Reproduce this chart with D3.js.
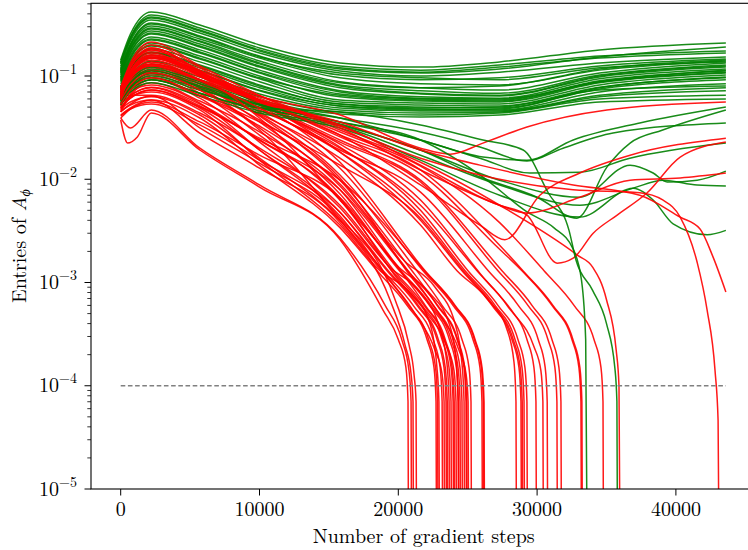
<!DOCTYPE html>
<html><head><meta charset="utf-8">
<script src="https://cdn.jsdelivr.net/npm/d3@7"></script>
<style>
body{margin:0;background:#fff}
svg{display:block}
</style>
</head><body>
<svg id="chart" width="748" height="550"></svg>
<script>
// ---------------- data ----------------
const xTicks = [0, 10000, 20000, 30000, 40000];
const yTickExps = [-5, -4, -3, -2, -1];
const thresholdValue = 1e-4;
const thresholdRange = [0, 43600];

// green runs sharing one step grid
const bundleSteps = [0, 700, 2200, 5700, 10000, 15800, 21600, 27300, 34500, 43600];
const greenBundle = [
  [0.143,0.255,0.417,0.312,0.200,0.134,0.122,0.137,0.179,0.209],
  [0.137,0.239,0.390,0.292,0.187,0.125,0.114,0.128,0.156,0.175],
  [0.134,0.234,0.373,0.279,0.179,0.120,0.109,0.122,0.149,0.167],
  [0.125,0.218,0.349,0.261,0.167,0.112,0.100,0.109,0.134,0.153],
  [0.120,0.204,0.326,0.244,0.156,0.102,0.092,0.096,0.125,0.146],
  [0.114,0.195,0.305,0.228,0.149,0.096,0.084,0.082,0.114,0.140],
  [0.109,0.187,0.292,0.218,0.140,0.088,0.077,0.073,0.107,0.134],
  [0.107,0.179,0.273,0.204,0.131,0.082,0.072,0.068,0.102,0.128],
  [0.102,0.167,0.255,0.191,0.122,0.077,0.067,0.064,0.098,0.122],
  [0.098,0.160,0.239,0.179,0.114,0.072,0.063,0.061,0.094,0.117],
  [0.094,0.149,0.223,0.167,0.107,0.067,0.060,0.0585,0.090,0.112],
  [0.092,0.143,0.209,0.156,0.100,0.063,0.0572,0.056,0.086,0.107],
  [0.088,0.134,0.195,0.146,0.094,0.0585,0.0547,0.0535,0.082,0.102],
  [0.084,0.128,0.183,0.137,0.088,0.056,0.0524,0.0512,0.078,0.098],
  [0.080,0.120,0.171,0.128,0.082,0.0535,0.0501,0.049,0.075,0.092],
  [0.077,0.114,0.160,0.120,0.077,0.0512,0.0479,0.0469,0.070,0.084],
  [0.073,0.107,0.149,0.112,0.072,0.049,0.0458,0.0458,0.065,0.077],
  [0.070,0.100,0.140,0.105,0.067,0.0469,0.0438,0.0448,0.063,0.072],
  [0.067,0.096,0.131,0.098,0.063,0.0448,0.0419,0.0438,0.060,0.065],
  [0.064,0.090,0.122,0.092,0.0585,0.0429,0.0401,0.0419,0.056,0.060],
  [0.117,0.200,0.319,0.239,0.153,0.107,0.096,0.092,0.120,0.137],
  [0.090,0.137,0.200,0.149,0.096,0.065,0.0585,0.0572,0.088,0.114],
  [0.075,0.109,0.153,0.114,0.073,0.0512,0.0469,0.0479,0.077,0.096],
  [0.105,0.171,0.261,0.195,0.125,0.080,0.068,0.065,0.100,0.125],
  [0.131,0.228,0.365,0.273,0.175,0.117,0.107,0.117,0.153,0.191],
  [0.112,0.183,0.286,0.214,0.134,0.086,0.077,0.080,0.117,0.143],
  [0.096,0.153,0.228,0.171,0.109,0.070,0.061,0.060,0.088,0.109],
  [0.078,0.117,0.167,0.125,0.080,0.0535,0.049,0.0501,0.073,0.080]
];

// other green runs as [step, value]
const greenOther = [
  [[0,0.063],[700,0.086],[2200,0.117],[5700,0.088],[10000,0.056],[15800,0.0392],[21600,0.024],[26100,0.0164],[29270,0.0153],[32600,0.024],[37400,0.0351],[43600,0.0501]],
  [[0,0.061],[700,0.084],[2200,0.112],[5700,0.084],[10000,0.0535],[15800,0.0392],[21600,0.0287],[25880,0.0205],[29270,0.0150],[31870,0.0200],[35470,0.028],[43600,0.0351]],
  [[0,0.0585],[700,0.080],[2200,0.105],[5700,0.078],[10000,0.0501],[15800,0.0336],[21600,0.0192],[25880,0.0105],[30000,0.0067],[32870,0.0042],[35030,0.0131],[36700,0.0224],[39050,0.030],[43600,0.0469]],
  [[0,0.060],[700,0.080],[2200,0.107],[5700,0.080],[10000,0.0524],[15800,0.0359],[21600,0.024],[25880,0.0160],[29480,0.0115],[33080,0.0117],[36680,0.0160],[43600,0.0224]],
  [[0,0.0572],[700,0.077],[2200,0.100],[5700,0.075],[10000,0.049],[15800,0.0343],[21600,0.0192],[27300,0.0098],[33080,0.0067],[36700,0.0137],[38360,0.0115],[39370,0.0094],[41530,0.0098],[43600,0.0120]],
  [[0,0.0547],[700,0.073],[2200,0.092],[5700,0.068],[10000,0.0458],[15800,0.0328],[21600,0.0171],[27300,0.0088],[33080,0.0056],[36920,0.0082],[39080,0.0098],[41530,0.0088],[43600,0.0086]],
  [[0,0.0524],[700,0.070],[2200,0.086],[5700,0.064],[10000,0.0438],[15800,0.0314],[21600,0.0153],[27300,0.0070],[33080,0.0043],[36920,0.0082],[38360,0.0063],[39800,0.0037],[42250,0.0029],[43600,0.0032]],
  [[0,0.0585],[700,0.077],[2200,0.096],[5700,0.073],[10000,0.0524],[15800,0.0359],[21600,0.024],[26100,0.0105],[29300,0.0048],[31200,0.0034],[32600,0.0021],[33200,0.00105],[33500,0.00028],[33680,1e-7]],
  [[0,0.056],[700,0.073],[2200,0.092],[5700,0.068],[10000,0.049],[15800,0.0448],[21600,0.0336],[26100,0.024],[29000,0.0192],[30800,0.0074],[32300,0.0032],[32800,0.00165],[34000,0.00084],[35000,0.00040],[35600,0.00015],[35750,0.00007],[35840,1e-7]]
];

// red runs as [step, value]
const redRuns = [
  [[0,0.0375],[500,0.0224],[1200,0.0257],[2200,0.0438],[5700,0.0192],[10000,0.0084],[15800,0.0026],[18900,0.00054],[20000,0.00028],[20550,0.00015],[20700,0.00007],[20770,1e-7]],
  [[0,0.0392],[700,0.0314],[2200,0.0469],[5700,0.0200],[10000,0.0088],[15800,0.0027],[19050,0.00060],[20250,0.00028],[20770,0.00014],[20920,0.00007],[20990,1e-7]],
  [[0,0.0419],[700,0.049],[2200,0.0585],[5700,0.028],[10000,0.0128],[15800,0.0038],[19400,0.00068],[20480,0.00025],[20920,0.00013],[21060,0.00007],[21130,1e-7]],
  [[0,0.0448],[700,0.0535],[2200,0.064],[5700,0.0314],[10000,0.0143],[15800,0.0042],[19770,0.00068],[20770,0.00025],[21130,0.00013],[21280,0.00007],[21350,1e-7]],
  [[0,0.0458],[700,0.0524],[2200,0.0585],[5700,0.0392],[10000,0.0137],[15800,0.0034],[18470,0.0013],[20630,0.0006],[22070,0.00028],[22574,0.00015],[22718,0.00007],[22790,1e-7]],
  [[0,0.0535],[700,0.063],[2200,0.070],[5700,0.0469],[10000,0.0153],[15800,0.0036],[18680,0.0013],[20840,0.0008],[22280,0.0004],[22784,0.00015],[22928,0.00007],[23000,1e-7]],
  [[0,0.0479],[700,0.056],[2200,0.063],[5700,0.0419],[10000,0.0160],[15800,0.0040],[18910,0.0013],[21070,0.0006],[22510,0.00028],[23014,0.00015],[23158,0.00007],[23230,1e-7]],
  [[0,0.0585],[700,0.070],[2200,0.082],[5700,0.0547],[10000,0.0192],[15800,0.0044],[19050,0.0012],[21210,0.0005],[22650,0.00022],[23154,0.00013],[23298,0.00007],[23370,1e-7]],
  [[0,0.0501],[700,0.061],[2200,0.073],[5700,0.049],[10000,0.0192],[15800,0.0048],[19190,0.0013],[21350,0.0006],[22790,0.00028],[23294,0.00015],[23438,0.00007],[23510,1e-7]],
  [[0,0.0448],[700,0.067],[2200,0.092],[5700,0.061],[10000,0.0229],[15800,0.0053],[19410,0.0014],[21570,0.0008],[23010,0.00035],[23514,0.00016],[23658,0.00007],[23730,1e-7]],
  [[0,0.064],[700,0.065],[2200,0.065],[5700,0.0438],[10000,0.0200],[15800,0.0056],[19550,0.0013],[21710,0.0006],[23150,0.00028],[23654,0.00015],[23798,0.00007],[23870,1e-7]],
  [[0,0.0524],[700,0.075],[2200,0.102],[5700,0.068],[10000,0.0268],[15800,0.0063],[19700,0.0013],[21860,0.0006],[23300,0.00028],[23804,0.00015],[23948,0.00007],[24020,1e-7]],
  [[0,0.0547],[700,0.065],[2200,0.077],[5700,0.0512],[10000,0.024],[15800,0.0066],[19910,0.0011],[22070,0.0005],[23510,0.00024],[24014,0.00014],[24158,0.00007],[24230,1e-7]],
  [[0,0.061],[700,0.086],[2200,0.114],[5700,0.077],[10000,0.0314],[15800,0.0072],[20060,0.0014],[22220,0.0008],[23660,0.0004],[24164,0.00018],[24308,0.00007],[24380,1e-7]],
  [[0,0.0469],[700,0.065],[2200,0.086],[5700,0.0572],[10000,0.0287],[15800,0.0079],[20200,0.0013],[22360,0.0006],[23800,0.00028],[24304,0.00015],[24448,0.00007],[24520,1e-7]],
  [[0,0.067],[700,0.094],[2200,0.125],[5700,0.084],[10000,0.0359],[15800,0.0086],[20340,0.0015],[22500,0.0006],[23940,0.00028],[24444,0.00015],[24588,0.00007],[24660,1e-7]],
  [[0,0.0572],[700,0.077],[2200,0.096],[5700,0.064],[10000,0.0328],[15800,0.0090],[20490,0.0016],[22650,0.0009],[24090,0.0004],[24594,0.00016],[24738,0.00007],[24810,1e-7]],
  [[0,0.0512],[700,0.088],[2200,0.137],[5700,0.092],[10000,0.041],[15800,0.0098],[20630,0.0015],[22790,0.0006],[24230,0.00028],[24734,0.00015],[24878,0.00007],[24950,1e-7]],
  [[0,0.070],[700,0.090],[2200,0.109],[5700,0.073],[10000,0.0375],[15800,0.0103],[20780,0.0012],[22940,0.0005],[24380,0.00022],[24884,0.00013],[25028,0.00007],[25100,1e-7]],
  [[0,0.060],[700,0.088],[2200,0.120],[5700,0.080],[10000,0.0419],[15800,0.0110],[20990,0.0015],[23150,0.0006],[24590,0.00028],[25094,0.00015],[25238,0.00007],[25310,1e-7]],
  [[0,0.063],[700,0.094],[2200,0.128],[5700,0.088],[10000,0.0448],[15800,0.0128],[21780,0.0013],[23940,0.0006],[25380,0.00028],[25884,0.00015],[26028,0.00007],[26100,1e-7]],
  [[0,0.065],[700,0.105],[2200,0.149],[5700,0.102],[10000,0.0524],[15800,0.0146],[21930,0.0013],[24090,0.0006],[25530,0.00028],[26034,0.00015],[26178,0.00007],[26250,1e-7]],
  [[0,0.067],[700,0.090],[2200,0.114],[5700,0.077],[10000,0.0429],[15800,0.0160],[21600,0.0036],[24230,0.0013],[26390,0.0007],[27830,0.00035],[28334,0.00017],[28478,0.00007],[28550,1e-7]],
  [[0,0.068],[700,0.109],[2200,0.160],[5700,0.109],[10000,0.056],[15800,0.0183],[21600,0.0040],[24590,0.0013],[26750,0.0006],[28190,0.00028],[28694,0.00015],[28838,0.00007],[28910,1e-7]],
  [[0,0.068],[700,0.100],[2200,0.137],[5700,0.092],[10000,0.049],[15800,0.0183],[21600,0.0045],[24810,0.0013],[26970,0.0006],[28410,0.00028],[28914,0.00015],[29058,0.00007],[29130,1e-7]],
  [[0,0.070],[700,0.117],[2200,0.179],[5700,0.109],[10000,0.0535],[15800,0.0205],[21600,0.0050],[25020,0.0013],[27180,0.0006],[28620,0.00028],[29124,0.00015],[29268,0.00007],[29340,1e-7]],
  [[0,0.072],[700,0.098],[2200,0.125],[5700,0.084],[10000,0.0469],[15800,0.0200],[21600,0.0056],[25670,0.0013],[27830,0.0006],[29270,0.00028],[29774,0.00015],[29918,0.00007],[29990,1e-7]],
  [[0,0.073],[700,0.117],[2200,0.171],[5700,0.105],[10000,0.0535],[15800,0.0219],[21600,0.0063],[26170,0.0011],[28330,0.0005],[29770,0.00024],[30274,0.00014],[30418,0.00007],[30490,1e-7]],
  [[0,0.073],[700,0.107],[2200,0.143],[5700,0.098],[10000,0.0535],[15800,0.0229],[21600,0.0094],[27180,0.0013],[29340,0.0006],[30780,0.00028],[31284,0.00015],[31428,0.00007],[31500,1e-7]],
  [[0,0.075],[700,0.122],[2200,0.187],[5700,0.112],[10000,0.056],[15800,0.024],[21600,0.0098],[27470,0.0013],[29630,0.0006],[31070,0.00028],[31574,0.00015],[31718,0.00007],[31790,1e-7]],
  [[0,0.075],[700,0.112],[2200,0.156],[5700,0.107],[10000,0.0585],[15800,0.0257],[21600,0.0112],[27300,0.0021],[28910,0.0013],[31070,0.0006],[32510,0.00028],[33014,0.00015],[33158,0.00007],[33230,1e-7]],
  [[0,0.077],[700,0.128],[2200,0.200],[5700,0.120],[10000,0.0585],[15800,0.0268],[21600,0.0123],[27300,0.0023],[28980,0.0013],[31140,0.0006],[32580,0.00028],[33084,0.00015],[33228,0.00007],[33300,1e-7]],
  [[0,0.077],[700,0.122],[2200,0.179],[5700,0.109],[10000,0.0585],[15800,0.0287],[21600,0.0134],[27300,0.0038],[30500,0.0013],[32660,0.0006],[34100,0.00028],[34604,0.00015],[34748,0.00007],[34820,1e-7]],
  [[0,0.077],[700,0.134],[2200,0.214],[5700,0.125],[10000,0.065],[15800,0.030],[21600,0.0146],[27300,0.0056],[32900,0.00184],[34000,0.00141],[35000,0.00068],[35700,0.00022],[35900,0.00010],[36040,1e-7]],
  [[0,0.070],[700,0.120],[2200,0.187],[5700,0.114],[10000,0.064],[15800,0.0419],[21600,0.0200],[23730,0.0175],[26100,0.0224],[29270,0.0321],[35030,0.0469],[43600,0.056]],
  [[0,0.0585],[700,0.102],[2200,0.131],[5700,0.092],[10000,0.056],[15800,0.0268],[21600,0.0088],[25880,0.0036],[27680,0.0026],[30200,0.0070],[33080,0.0115],[36700,0.0171],[43600,0.025]],
  [[0,0.061],[700,0.100],[2200,0.149],[5700,0.102],[10000,0.061],[15800,0.0314],[21600,0.0123],[27300,0.0056],[29270,0.0045],[31440,0.00154],[32600,0.00172],[34040,0.0030],[35770,0.0045],[37930,0.0074],[40310,0.0164],[43600,0.0229]],
  [[0,0.064],[700,0.107],[2200,0.160],[5700,0.100],[10000,0.0572],[15800,0.0336],[21600,0.0137],[27300,0.0056],[29270,0.0047],[33080,0.0067],[36700,0.0098],[40310,0.0103],[43600,0.0115]],
  [[0,0.067],[700,0.112],[2200,0.167],[5700,0.102],[10000,0.0585],[15800,0.0359],[21600,0.0192],[25880,0.0137],[32600,0.0088],[37400,0.0070],[40310,0.0043],[41740,0.0033],[42680,0.00176],[43600,0.00081]],
  [[0,0.065],[700,0.105],[2200,0.153],[5700,0.105],[10000,0.064],[15800,0.0328],[21600,0.0160],[25880,0.0110],[32600,0.0079],[37400,0.0074],[39050,0.0063],[40310,0.0043],[41530,0.00157],[42250,0.00054],[42820,0.00014],[43040,0.000046],[43180,1e-7]],
  [[0,0.063],[700,0.102],[2200,0.149],[5700,0.100],[10000,0.0392],[15800,0.0063],[19780,0.0015],[21940,0.0006],[23380,0.00028],[23884,0.00015],[24028,0.00007],[24100,1e-7]],
  [[0,0.041],[700,0.0479],[2200,0.0535],[5700,0.0336],[10000,0.0153],[15800,0.0048],[19280,0.0013],[21440,0.0006],[22880,0.00028],[23384,0.00015],[23528,0.00007],[23600,1e-7]],
  [[0,0.049],[700,0.064],[2200,0.078],[5700,0.0535],[10000,0.024],[15800,0.0079],[20680,0.0013],[22840,0.0006],[24280,0.00028],[24784,0.00015],[24928,0.00007],[25000,1e-7]],
  [[0,0.0585],[700,0.082],[2200,0.107],[5700,0.073],[10000,0.030],[15800,0.0040],[18580,0.0014],[20740,0.0006],[22180,0.00028],[22684,0.00015],[22828,0.00007],[22900,1e-7]],
  [[0,0.0535],[700,0.073],[2200,0.096],[5700,0.065],[10000,0.0359],[15800,0.0137],[21600,0.0042],[24680,0.0013],[26840,0.0006],[28280,0.00028],[28784,0.00015],[28928,0.00007],[29000,1e-7]],
  [[0,0.049],[700,0.061],[2200,0.073],[5700,0.0501],[10000,0.025],[15800,0.0098],[21880,0.0013],[24040,0.0006],[25480,0.00028],[25984,0.00015],[26128,0.00007],[26200,1e-7]],
  [[0,0.065],[700,0.096],[2200,0.131],[5700,0.090],[10000,0.049],[15800,0.0192],[21600,0.0075],[26480,0.0013],[28640,0.0006],[30080,0.00028],[30584,0.00015],[30728,0.00007],[30800,1e-7]],
  [[0,0.0392],[700,0.0479],[2200,0.056],[5700,0.0359],[10000,0.0171],[15800,0.0066],[20080,0.0013],[22240,0.0006],[23680,0.00028],[24184,0.00015],[24328,0.00007],[24400,1e-7]]
];

// ---------------- chart ----------------
const plotL = 91, plotR = 756.4, plotT = 3.3, plotB = 489;
const FONT = "'Latin Modern Roman', 'Liberation Serif', serif";
const svg = d3.select("#chart");

const x = d3.scaleLinear().domain([-2140, 45800]).range([plotL, plotR]);
const y = d3.scaleLog().domain([1e-5, 0.506]).range([plotB, plotT]);

svg.append("defs").append("clipPath").attr("id", "clip")
  .append("rect").attr("x", plotL).attr("y", plotT).attr("width", plotR - plotL).attr("height", plotB - plotT);

const greenRuns = greenBundle.map(vals => vals.map((v, i) => [bundleSteps[i], v])).concat(greenOther);

const runs = [];
const n = Math.max(redRuns.length, greenRuns.length);
for (let i = 0; i < n; i++) {
  if (redRuns[i]) runs.push({c: "#ff0000", d: redRuns[i]});
  if (greenRuns[i]) runs.push({c: "#008000", d: greenRuns[i]});
}

const line = d3.line().x(d => x(d[0])).y(d => y(d[1])).curve(d3.curveMonotoneX);

const g = svg.append("g").attr("clip-path", "url(#clip)");
g.selectAll("path.run").data(runs).join("path")
  .attr("class", "run")
  .attr("d", d => line(d.d))
  .attr("fill", "none")
  .attr("stroke", d => d.c)
  .attr("stroke-width", 1.5)
  .attr("stroke-opacity", 0.9)
  .attr("stroke-linejoin", "round");

// threshold dashed line
g.append("line")
  .attr("x1", x(thresholdRange[0])).attr("x2", x(thresholdRange[1]))
  .attr("y1", y(thresholdValue)).attr("y2", y(thresholdValue))
  .attr("stroke", "#808080").attr("stroke-width", 1.3)
  .attr("stroke-dasharray", "4.6,2.6");

// frame
svg.append("rect").attr("x", plotL).attr("y", plotT).attr("width", plotR - plotL).attr("height", plotB - plotT)
  .attr("fill", "none").attr("stroke", "#000").attr("stroke-width", 1.1);

// x axis
const xa = svg.append("g");
xTicks.forEach(t => {
  const px = x(t);
  xa.append("line").attr("x1", px).attr("x2", px).attr("y1", plotB).attr("y2", plotB + 6.5)
    .attr("stroke", "#000").attr("stroke-width", 1);
  xa.append("text").attr("x", px).attr("y", plotB + 26.5).attr("text-anchor", "middle")
    .attr("font-family", FONT).attr("font-size", 20).text(String(t));
});
svg.append("text").attr("x", (plotL + plotR) / 2).attr("y", 543).attr("text-anchor", "middle")
  .attr("font-family", FONT).attr("font-size", 20).text("Number of gradient steps");

// y axis
const ya = svg.append("g");
yTickExps.forEach(e => {
  const py = y(Math.pow(10, e));
  ya.append("line").attr("x1", plotL - 6.5).attr("x2", plotL).attr("y1", py).attr("y2", py)
    .attr("stroke", "#000").attr("stroke-width", 1);
  const t = ya.append("text").attr("x", 77).attr("y", py + 6.5).attr("text-anchor", "end")
    .attr("font-family", FONT).attr("font-size", 20);
  t.append("tspan").text("10");
  t.append("tspan").attr("font-size", 14).attr("dy", -9).text("\u2212" + Math.abs(e));
  for (let m = 2; m <= 9; m++) {
    const v = m * Math.pow(10, e);
    if (v > y.domain()[1]) break;
    const pm = y(v);
    ya.append("line").attr("x1", plotL - 3.7).attr("x2", plotL).attr("y1", pm).attr("y2", pm)
      .attr("stroke", "#000").attr("stroke-width", 0.8);
  }
});
const yl = svg.append("text").attr("transform", `translate(26,${(plotT + plotB) / 2}) rotate(-90)`)
  .attr("text-anchor", "middle").attr("font-family", FONT).attr("font-size", 20);
yl.append("tspan").text("Entries of ");
yl.append("tspan").attr("font-style", "italic").text("A");
yl.append("tspan").attr("font-style", "italic").attr("font-size", 14).attr("dy", 4).text("\u03D5");
</script>
</body></html>
